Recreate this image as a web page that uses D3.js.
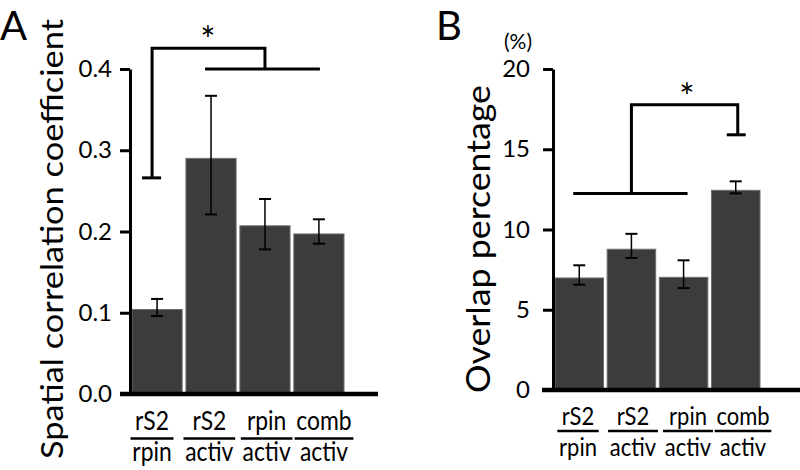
<!DOCTYPE html>
<html><head><meta charset="utf-8">
<script src="https://cdn.jsdelivr.net/npm/d3@7"></script>
<style>
body{margin:0;background:#fff;}
text{font-family:Lato,"Open Sans",sans-serif;fill:#000;}
</style></head><body>
<svg id="c" width="800" height="470"></svg>
<script>
// ---- data ----
const catsTop = ["rS2","rS2","rpin","comb"];
const catsBottom = ["rpin","activ","activ","activ"];
const keys = ["rS2/rpin","rS2/activ","rpin/activ","comb/activ"];

const corrValues = [0.104, 0.290, 0.207, 0.197];
const corrErrLow = [0.096, 0.221, 0.178, 0.185];
const corrErrHigh = [0.117, 0.367, 0.240, 0.215];
const corrTicks = [0.0, 0.1, 0.2, 0.3, 0.4];
const corrTickLabels = ["0.0","0.1","0.2","0.3","0.4"];

const overlapValues = [6.98, 8.77, 7.02, 12.44];
const overlapErrLow = [6.56, 8.23, 6.35, 12.25];
const overlapErrHigh = [7.77, 9.73, 8.08, 13.0];
const overlapTicks = [0, 5, 10, 15, 20];

// significance brackets (data units)
const corrSig = {leftStart:0.266, top:0.4255, groupLevel:0.4};
const overlapSig = {groupLevel:12.25, top:17.77, rightEnd:15.9};

const svg = d3.select("#c");

function drawPanel(o){
  const g = svg.append("g");
  const x = d3.scaleBand().domain(keys).range(o.xr).paddingInner(0.07).paddingOuter(0);
  const y = d3.scaleLinear().domain(o.ydom).range(o.yr);
  const lx = d3.scalePoint().domain(keys).range(o.lr);
  // bars
  g.selectAll("rect.bar").data(keys).join("rect")
    .attr("x", k=>x(k)).attr("width", x.bandwidth())
    .attr("y", (k,i)=>y(o.vals[i])).attr("height",(k,i)=>y(0)-y(o.vals[i]))
    .attr("fill","#3c3c3c").attr("stroke","#6e6e6e").attr("stroke-width",1);
  // error bars
  const eb = g.selectAll("g.eb").data(keys).join("g");
  eb.append("line").attr("x1",k=>x(k)+x.bandwidth()/2).attr("x2",k=>x(k)+x.bandwidth()/2)
    .attr("y1",(k,i)=>y(o.lo[i])).attr("y2",(k,i)=>y(o.hi[i])).attr("stroke","#000").attr("stroke-width",1.5);
  [o.lo,o.hi].forEach(arr=>{
    eb.append("line").attr("x1",k=>x(k)+x.bandwidth()/2-6).attr("x2",k=>x(k)+x.bandwidth()/2+6)
      .attr("y1",(k,i)=>y(arr[i])).attr("y2",(k,i)=>y(arr[i])).attr("stroke","#000").attr("stroke-width",2);
  });
  // y axis
  const ax = g.append("g").attr("transform",`translate(${o.axisX},0)`)
    .call(d3.axisLeft(y).tickValues(o.ticks).tickFormat((d,i)=>o.tickLabels[i]).tickSize(10).tickSizeOuter(0).tickPadding(o.tickPad));
  ax.select(".domain").attr("stroke","#000").attr("stroke-width",3);
  ax.selectAll(".tick line").attr("stroke","#000").attr("stroke-width",3);
  ax.selectAll(".tick text").attr("font-size",24).attr("font-family","Lato");
  // baseline
  g.append("line").attr("x1",o.baseX[0]).attr("x2",o.baseX[1]).attr("y1",y(0)).attr("y2",y(0))
    .attr("stroke","#000").attr("stroke-width",4.5);
  // labels
  const lab = g.selectAll("g.lab").data(keys).join("g").attr("transform",k=>`translate(${lx(k)},0) scale(0.88,1)`);
  lab.append("text").attr("y",o.labY[0]).attr("text-anchor","middle").attr("font-size",o.labSize).text((k,i)=>catsTop[i]);
  lab.append("text").attr("y",o.labY[2]).attr("text-anchor","middle").attr("font-size",o.labSize).text((k,i)=>catsBottom[i]);
  lab.each(function(){
    const s = d3.select(this);
    const w = d3.max(s.selectAll("text").nodes(), n=>n.getComputedTextLength());
    s.append("line").attr("x1",-w/2-2).attr("x2",w/2+2).attr("y1",o.labY[1]).attr("y2",o.labY[1])
      .attr("stroke","#000").attr("stroke-width",2.5);
  });
  // title
  g.append("text").attr("transform",`translate(${o.titleX},${o.titleY}) rotate(-90)`)
    .attr("text-anchor","middle").attr("font-size",o.titleSize)
    .attr("textLength",o.titleLen).attr("lengthAdjust","spacingAndGlyphs").text(o.title);
  // panel letter
  g.append("text").attr("x",o.letterX).attr("y",o.letterY).attr("font-size",40).text(o.letter);
  return {g,x,y,cx:k=>x(k)+x.bandwidth()/2};
}

// Panel A
const A = drawPanel({xr:[132,344], ydom:[0,0.4], yr:[394,69], lr:[152,324], vals:corrValues, lo:corrErrLow, hi:corrErrHigh,
  ticks:corrTicks, tickLabels:corrTickLabels, axisX:130, tickPad:8, baseX:[120,378], labY:[430,438.5,461], labSize:26,
  title:"Spatial correlation coefficient", titleX:63, titleY:239, titleSize:30, titleLen:440, letter:"A", letterX:0, letterY:40});
{
  const {g,y,cx} = A;
  const path = (pts)=>g.append("path").attr("d",d3.line()(pts)).attr("fill","none").attr("stroke","#000").attr("stroke-width",3);
  const lx = cx(keys[0])-5;
  path([[lx,y(corrSig.leftStart)],[lx,y(corrSig.top)],[cx(keys[2]),y(corrSig.top)],[cx(keys[2]),y(corrSig.groupLevel)]]);
  path([[lx-10,y(corrSig.leftStart)],[lx+9,y(corrSig.leftStart)]]);
  path([[cx(keys[1])-6,y(corrSig.groupLevel)],[cx(keys[3])+1,y(corrSig.groupLevel)]]);
  g.append("text").attr("x",208).attr("y",53).attr("text-anchor","middle").attr("font-size",36).attr("font-family","DejaVu Sans").text("*");
}

// Panel B
const B = drawPanel({xr:[555,760], ydom:[0,20], yr:[390,69], lr:[578,743], vals:overlapValues, lo:overlapErrLow, hi:overlapErrHigh,
  ticks:overlapTicks, tickLabels:overlapTicks.map(String), axisX:553, tickPad:13, baseX:[542,800], labY:[425,431,456], labSize:25,
  title:"Overlap percentage", titleX:490, titleY:239, titleSize:32, titleLen:308, letter:"B", letterX:436, letterY:40});
{
  const {g,y,cx} = B;
  const path = (pts)=>g.append("path").attr("d",d3.line()(pts)).attr("fill","none").attr("stroke","#000").attr("stroke-width",3);
  path([[cx(keys[0])-6,y(overlapSig.groupLevel)],[cx(keys[2])+4,y(overlapSig.groupLevel)]]);
  path([[cx(keys[1]),y(overlapSig.groupLevel)],[cx(keys[1]),y(overlapSig.top)],[cx(keys[3])+2,y(overlapSig.top)],[cx(keys[3])+2,y(overlapSig.rightEnd)]]);
  path([[cx(keys[3])-9,y(overlapSig.rightEnd)],[cx(keys[3])+10,y(overlapSig.rightEnd)]]);
  g.append("text").attr("x",687).attr("y",110).attr("text-anchor","middle").attr("font-size",36).attr("font-family","DejaVu Sans").text("*");
  g.append("text").attr("x",518).attr("y",49).attr("text-anchor","middle").attr("font-size",21).text("(%)");
}
</script>
</body></html>
